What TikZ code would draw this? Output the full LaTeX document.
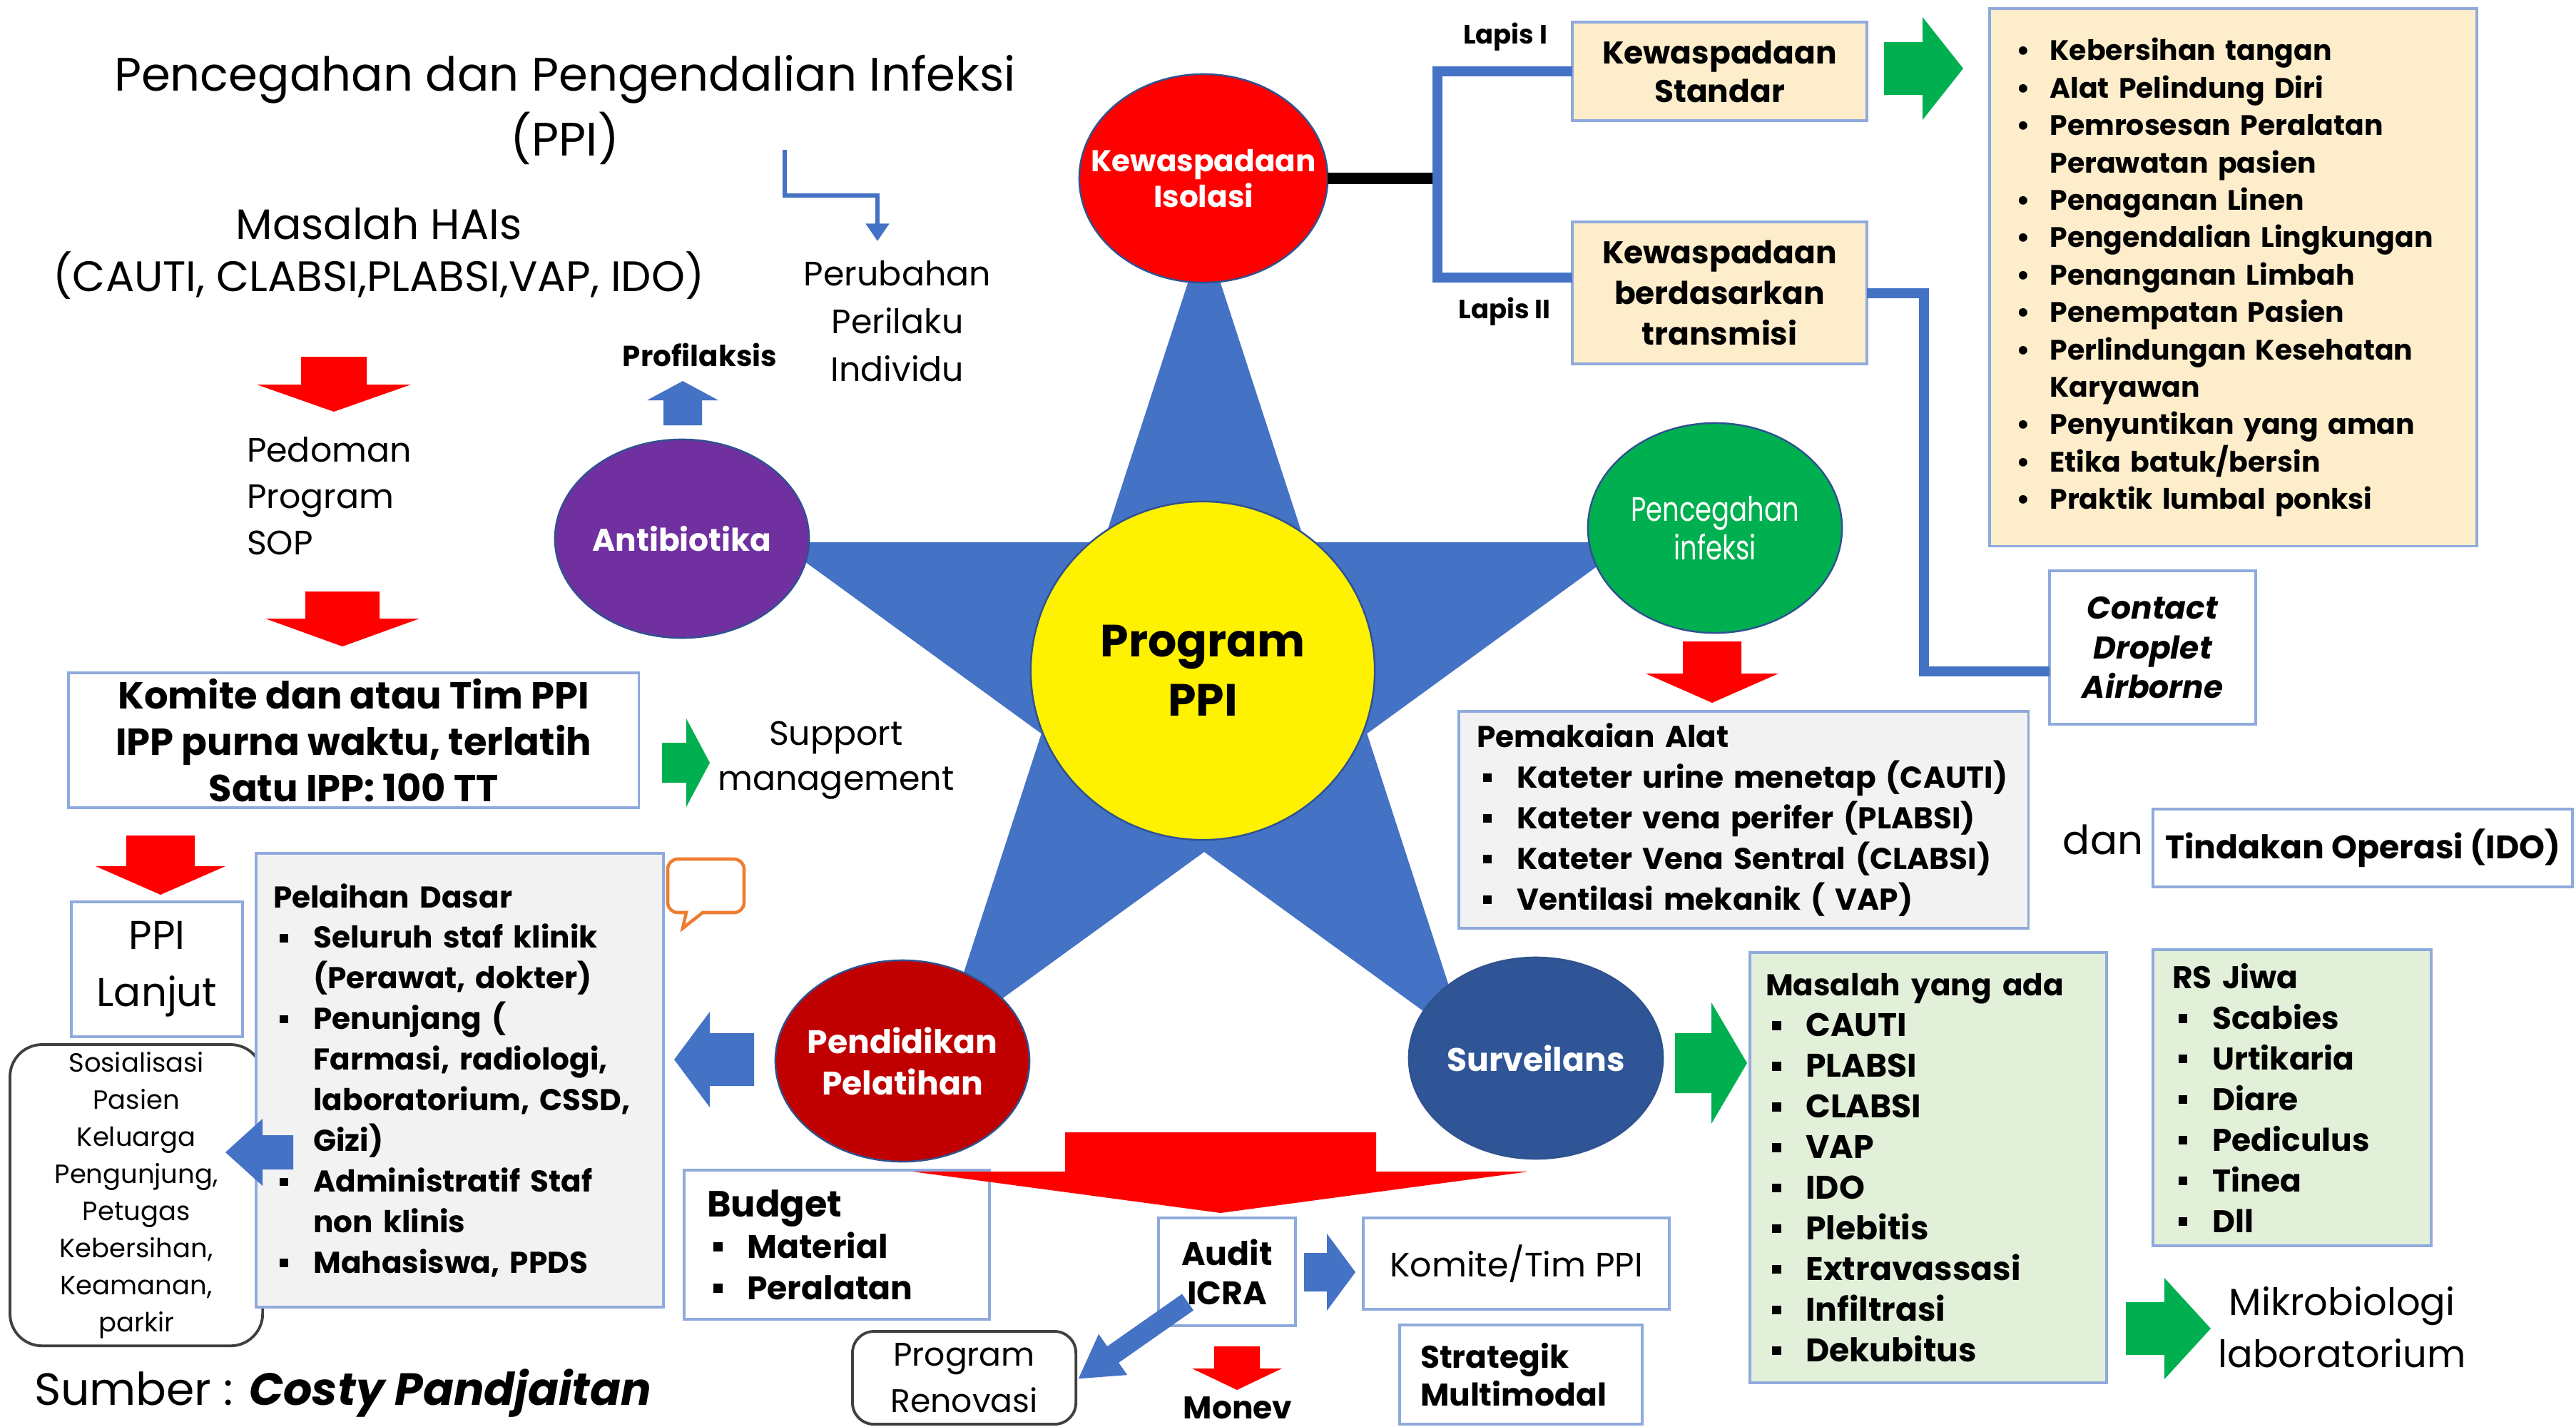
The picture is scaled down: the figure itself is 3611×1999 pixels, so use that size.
\documentclass[tikz,border=0pt]{standalone}
\usepackage{fontspec}
\setmainfont{Poppins}
\newfontfamily\narrow[FakeStretch=0.78]{Poppins}
\usepackage{tikz}
\usetikzlibrary{shapes.geometric, arrows.meta, positioning, calc}
\definecolor{pBlue}    {HTML}{4472C4}
\definecolor{aRed}     {HTML}{FF0000}
\definecolor{aGreen}   {HTML}{00B050}
\definecolor{cPurple}  {HTML}{7030A0}
\definecolor{cDarkRed} {HTML}{C00000}
\definecolor{cNavy}    {HTML}{2F5597}
\definecolor{cLine}    {HTML}{2F528F}
\definecolor{boxLine}  {HTML}{8FAADC}
\definecolor{beige}    {HTML}{FDEDCB}
\definecolor{greyFill} {HTML}{F2F2F2}
\definecolor{greenFill}{HTML}{E2F0D9}
\definecolor{bubble}   {HTML}{ED7D31}

\newcommand{\fsz}[2]{\fontsize{#1}{#2}\selectfont}
\newcommand{\sqb}{\hspace*{2.5pt}\makebox[13.5pt][l]{\rule[0.2em]{0.28em}{0.28em}}}
\newcommand{\ind}{\hspace*{16pt}}
\newcommand{\dotb}{\makebox[13.5pt][l]{\textbullet}}

\tikzset{
  pics/blockarrow/.style n args={5}{code={
    \fill[#5] (0,-#2) -- ({#1-#4},-#2) -- ({#1-#4},-#3) -- (#1,0)
      -- ({#1-#4},#3) -- ({#1-#4},#2) -- (0,#2) -- cycle;
  }},
}

\begin{document}
\begin{tikzpicture}[x=0.01cm, y=-0.01cm,
    every node/.style={inner sep=0, outer sep=0},
    lbl/.style={align=center},
    box/.style={draw=boxLine, line width=1.1pt, fill=white, align=center,
                anchor=north west},
    listbox/.style={box, align=left},
    circ/.style={ellipse, draw=cLine, line width=0.7pt, align=center,
                 text=white, inner sep=-1cm},
    bracket/.style={draw=pBlue, line width=4pt}]
  \useasboundingbox (0,0) rectangle (3611,1999);

  % star behind the circles
  \fill[pBlue, shift={(1688,954)}] (-90:628)
    \foreach \a/\r in {-54/240,-18/628,18/240,54/628,90/240,126/628,
                       162/240,198/628,234/240}{ -- (\a:\r) } -- cycle;

  \node[circ, fill=yellow, text=black, minimum width=4.82cm,
        minimum height=4.74cm, font=\bfseries\fsz{18}{23.6}]
        (program) at (1686,940) {Program\\PPI};
  \node[circ, fill=aRed, minimum width=3.48cm, minimum height=2.92cm,
        font=\bfseries\fsz{12}{14.2}] (isolasi) at (1687,250)
        {Kewaspadaan\\Isolasi};
  \node[circ, fill=cPurple, minimum width=3.56cm, minimum height=2.78cm,
        font=\bfseries\fsz{12.5}{14}] (antibiotika) at (956,755)
        {Antibiotika};
  \node[circ, fill=aGreen, minimum width=3.56cm, minimum height=2.94cm,
        font=\narrow\fsz{13.5}{15.4}] (pencegahan) at (2404,740)
        {Pencegahan\\infeksi};
  \node[circ, fill=cDarkRed, minimum width=3.56cm, minimum height=2.82cm,
        font=\bfseries\fsz{13}{16.5}] (pendidikan) at (1265,1487)
        {Pendidikan\\Pelatihan};
  \node[circ, fill=cNavy, minimum width=3.56cm, minimum height=2.82cm,
        font=\bfseries\fsz{13}{15}] (surveilans) at (2153,1483)
        {Surveilans};

  % free text
  \node[lbl, font=\fsz{18.7}{26}] (title) at (792,154)
    {Pencegahan dan Pengendalian Infeksi\\(PPI)};
  \node[lbl, font=\fsz{17}{20.8}] (hais) at (531,355)
    {Masalah HAIs\\(CAUTI, CLABSI,PLABSI,VAP, IDO)};
  \node[lbl, font=\fsz{13.5}{19}] (perilaku) at (1258,450)
    {Perubahan\\Perilaku\\Individu};
  \node[align=left, anchor=west, font=\fsz{13.5}{18.4}] (pedoman)
    at (346,695) {Pedoman\\Program\\SOP};
  \node[lbl, font=\fsz{13.5}{17.9}] (support) at (1172,1066)
    {Support\\management};
  \node[font=\bfseries\fsz{11.5}{13}] (profilaksis) at (981,497) {Profilaksis};
  \node[font=\bfseries\fsz{10.5}{12}] (lapisI) at (2110,52) {Lapis I};
  \node[font=\bfseries\fsz{10.5}{12}] (lapisII) at (2109,437) {Lapis II};
  \node[font=\fsz{16}{18}] (dan) at (2948,1177) {dan};
  \node[lbl, font=\fsz{15}{20.8}] (mikro) at (3283,1860)
    {Mikrobiologi\\laboratorium};
  \node[font=\bfseries\fsz{12.5}{14}] (monev) at (1735,1973) {Monev};
  \node[anchor=west, font=\fsz{18}{20}] (sumber) at (48,1953)
    {Sumber : \textbf{\textit{Costy Pandjaitan}}};

  % boxes on the left
  \node[box, minimum width=7.99cm, minimum height=1.89cm,
        font=\bfseries\fsz{15}{18.5}] (komite) at (96,943)
    {Komite dan atau Tim PPI\\IPP purna waktu, terlatih\\Satu IPP: 100 TT};
  \node[box, minimum width=2.40cm, minimum height=1.89cm,
        font=\fsz{16}{22.8}] (lanjut) at (100,1264) {PPI\\Lanjut};
  \node[box, draw=black!75, rounded corners=0.45cm, minimum width=3.54cm,
        minimum height=4.22cm, font=\fsz{10.5}{14.8}] (sosialisasi) at (14,1464)
    {Sosialisasi\\Pasien\\Keluarga\\Pengunjung,\\Petugas\\Kebersihan,\\Keamanan,\\parkir};
  \node[listbox, fill=greyFill, minimum width=5.71cm, minimum height=6.36cm,
        inner xsep=0.24cm, text width=5.23cm,
        font=\bfseries\fsz{12}{16.2}] (pelatihan) at (359,1196)
    {Pelaihan Dasar\\
     \sqb Seluruh staf klinik\\
     \ind(Perawat, dokter)\\
     \sqb Penunjang (\\
     \ind Farmasi, radiologi,\\
     \ind laboratorium, CSSD,\\
     \ind Gizi)\\
     \sqb Administratif Staf\\
     \ind non klinis\\
     \sqb Mahasiswa, PPDS};
  \draw[bubble, line width=1.3pt] (957,1301) -- (962,1279)
    [rounded corners=4pt] -- (936,1279) -- (936,1204) -- (1043,1204)
    -- (1043,1279) [sharp corners] -- (985,1279) -- cycle;

  % boxes at the bottom
  \node[listbox, minimum width=4.28cm, minimum height=2.09cm,
        inner xsep=0.32cm, text width=3.64cm,
        font=\bfseries\fsz{13}{16.5}] (budget) at (959,1640)
    {{\fsz{14.5}{16.5}Budget}\\ \sqb Material\\ \sqb Peralatan};
  \node[box, minimum width=1.92cm, minimum height=1.51cm,
        font=\bfseries\fsz{13}{15.6}] (audit) at (1624,1707) {Audit\\ICRA};
  \node[box, minimum width=4.29cm, minimum height=1.28cm,
        font=\fsz{13.5}{16}] (komtim) at (1911,1707) {Komite/Tim PPI};
  \node[listbox, minimum width=3.40cm, minimum height=1.39cm,
        inner xsep=0.29cm, text width=2.82cm,
        font=\bfseries\fsz{12.5}{15}] (strategik) at (1962,1857)
    {Strategik\\Multimodal};
  \node[box, draw=black!75, rounded corners=0.3cm, minimum width=3.13cm,
        minimum height=1.30cm, font=\fsz{13}{18.5}] (renovasi) at (1195,1866)
    {Program\\Renovasi};

  % boxes on the right
  \node[box, fill=beige, minimum width=4.13cm, minimum height=1.38cm,
        font=\bfseries\fsz{12.5}{15.4}] (standar) at (2204,31)
    {Kewaspadaan\\Standar};
  \node[box, fill=beige, minimum width=4.13cm, minimum height=1.99cm,
        font=\bfseries\fsz{12.5}{16.2}] (transmisi) at (2204,311)
    {Kewaspadaan\\berdasarkan\\transmisi};
  \node[listbox, fill=beige, minimum width=6.83cm, minimum height=7.53cm,
        inner xsep=0.37cm, text width=6.09cm,
        font=\bfseries\fsz{11.2}{14.9}] (standarlist) at (2789,12)
    {\dotb Kebersihan tangan\\
     \dotb Alat Pelindung Diri\\
     \dotb Pemrosesan Peralatan\\
     \hspace*{13.5pt}Perawatan pasien\\
     \dotb Penaganan Linen\\
     \dotb Pengendalian Lingkungan\\
     \dotb Penanganan Limbah\\
     \dotb Penempatan Pasien\\
     \dotb Perlindungan Kesehatan\\
     \hspace*{13.5pt}Karyawan\\
     \dotb Penyuntikan yang aman\\
     \dotb Etika batuk/bersin\\
     \dotb Praktik lumbal ponksi};
  \node[box, minimum width=2.89cm, minimum height=2.15cm,
        font=\bfseries\itshape\fsz{12.5}{15.9}] (contact) at (2873,800)
    {Contact\\Droplet\\Airborne};
  \node[listbox, fill=greyFill, minimum width=7.98cm, minimum height=3.04cm,
        inner xsep=0.25cm, text width=7.48cm,
        font=\bfseries\fsz{12}{16.2}] (alat) at (2045,997)
    {Pemakaian Alat\\
     \sqb Kateter urine menetap (CAUTI)\\
     \sqb Kateter vena perifer (PLABSI)\\
     \sqb Kateter Vena Sentral (CLABSI)\\
     \sqb Ventilasi mekanik ( VAP)};
  \node[box, minimum width=5.88cm, minimum height=1.09cm,
        font=\bfseries\fsz{13}{15}] (ido) at (3018,1134)
    {Tindakan Operasi (IDO)};
  \node[listbox, fill=greenFill, minimum width=5.00cm, minimum height=6.03cm,
        inner xsep=0.22cm, text width=4.56cm,
        font=\bfseries\fsz{13}{16.2}] (masalah) at (2453,1335)
    {{\fsz{12}{16.2}Masalah yang ada}\\
     \sqb CAUTI\\ \sqb PLABSI\\ \sqb CLABSI\\ \sqb VAP\\ \sqb IDO\\
     \sqb Plebitis\\ \sqb Extravassasi\\ \sqb Infiltrasi\\ \sqb Dekubitus};
  \node[listbox, fill=greenFill, minimum width=3.90cm, minimum height=4.15cm,
        inner xsep=0.27cm, text width=3.36cm,
        font=\bfseries\fsz{12.5}{16.2}] (rsjiwa) at (3018,1331)
    {RS Jiwa\\
     \sqb Scabies\\ \sqb Urtikaria\\ \sqb Diare\\ \sqb Pediculus\\
     \sqb Tinea\\ \sqb Dll};

  % lines from Kewaspadaan Isolasi
  \coordinate (split) at (2015,250);
  \draw[line width=4.5pt] (isolasi.east) -- (split);
  \draw[bracket] (standar.west) -| (split) |- ([yshift=0.22cm]transmisi.west);
  \draw[bracket] (transmisi.east) -- ++(80,0) |- ([yshift=-0.33cm]contact.west);

  \coordinate (bend) at (1100,210);
  \draw[pBlue, line width=1.8pt, -{Triangle[length=7pt, width=9pt]}]
    (bend) |- ++(130,64) -- ++(0,64);

  % block arrows
  \pic[rotate=-90] at (468,500)   {blockarrow={77}{46}{108}{38}{aRed}};
  \pic[rotate=-90] at (480,829)   {blockarrow={77}{52}{108}{39}{aRed}};
  \pic[rotate=-90] at (225,1171)  {blockarrow={83}{48}{91}{40}{aRed}};
  \pic[rotate=-90] at (2400,899)  {blockarrow={86}{41}{93}{41}{aRed}};
  \pic[rotate=-90] at (1711,1587) {blockarrow={113}{218}{432}{58}{aRed}};
  \pic[rotate=-90] at (1734,1887) {blockarrow={61}{32}{63}{30}{aRed}};
  \pic at (2641,96)   {blockarrow={111}{37}{72}{57}{aGreen}};
  \pic at (928,1069)  {blockarrow={67}{28}{62}{33}{aGreen}};
  \pic at (2348,1490) {blockarrow={101}{42}{85}{50}{aGreen}};
  \pic at (2980,1862) {blockarrow={119}{37}{71}{65}{aGreen}};
  \pic[rotate=180] at (1057,1485) {blockarrow={112}{37}{67}{50}{pBlue}};
  \pic[rotate=180] at (411,1615)  {blockarrow={95}{24}{47}{52}{pBlue}};
  \pic[rotate=90]  at (957,596)   {blockarrow={62}{27}{50}{27}{pBlue}};
  \pic at (1828,1783) {blockarrow={72}{27}{54}{40}{pBlue}};
  \pic[rotate=215] at (1665,1825) {blockarrow={187}{14}{35}{59}{pBlue}};
\end{tikzpicture}
\end{document}
